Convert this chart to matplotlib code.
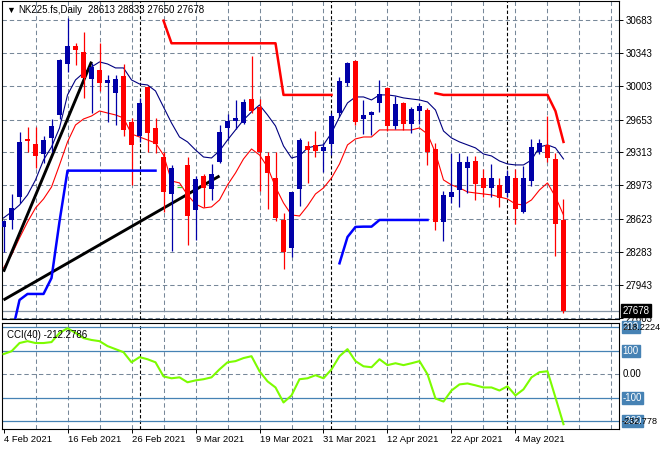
import numpy as np
import matplotlib.pyplot as plt

plt.rcParams['font.family'] = ['Liberation Sans', 'DejaVu Sans']

### NK225.fs daily bars, 4 Feb 2021 .. 12 May 2021 (71 bars)
opens = [28546, 28615, 28856, 29456, 29401, 29300, 29466, 29704, 30225, 30417,
         30352, 30073, 30169, 30028, 29928, 30104, 29628, 29484, 29987, 29566,
         29269, 28881, 28953, 29184, 28718, 29070, 28936, 29218, 29569, 29642,
         29618, 29866, 29780, 29280, 29049, 28615, 28322, 28936, 29383, 29387,
         29328, 29401, 29718, 30035, 30262, 29662, 29698, 29822, 29980, 29590,
         29822, 29608, 29742, 29752, 29346, 28598, 28856, 28925, 29156, 29225,
         29049, 28949, 28977, 28891, 29049, 28695, 29018, 29321, 29391, 29246,
         28613]
highs = [28615, 28881, 29528, 29580, 29580, 29487, 29662, 30283, 30700, 30442,
         30556, 30235, 30448, 30117, 30117, 30228, 29667, 29880, 30001, 29667,
         29321, 29184, 28953, 29263, 29073, 29091, 29198, 29597, 29708, 29856,
         29866, 30311, 29869, 29315, 29315, 28684, 28908, 29466, 29432, 29535,
         29408, 29718, 30090, 30250, 30269, 29856, 29740, 30063, 29990, 29897,
         29838, 29780, 29828, 29770, 29408, 28915, 29305, 29305, 29277, 29277,
         29139, 29191, 29046, 29132, 29139, 29177, 29449, 29456, 29690, 29305,
         28833]
lows = [28287, 28519, 28794, 29321, 29150, 29207, 29321, 29656, 30148, 30218,
        29873, 29718, 29952, 29631, 29600, 29484, 28977, 29420, 29321, 29311,
        28701, 28298, 28953, 28357, 28408, 28752, 28822, 29200, 29442, 29553,
        29610, 29718, 28918, 28726, 28608, 28105, 28229, 28763, 29001, 29269,
        29114, 29287, 29677, 29999, 29597, 29504, 29494, 29735, 29538, 29553,
        29546, 29511, 29608, 29184, 28512, 28401, 28788, 28752, 28891, 28822,
        28856, 28850, 28752, 28856, 28574, 28690, 28967, 29297, 29218, 28243,
        27650]
closes = [28608, 28736, 29418, 29435, 29280, 29439, 29587, 30269, 30414, 30373,
          30080, 30200, 30032, 30063, 30076, 29549, 29391, 29822, 29511, 29401,
          28908, 29150, 28953, 28656, 29039, 28949, 29094, 29525, 29639, 29670,
          29835, 29742, 29321, 29104, 28632, 28287, 28901, 29442, 29339, 29332,
          29373, 29690, 30052, 30242, 29631, 29701, 29732, 29915, 29590, 29811,
          29604, 29763, 29794, 29321, 28598, 28874, 28905, 29215, 29215, 28990,
          28949, 29046, 28839, 29070, 28726, 29049, 29370, 29408, 29259, 28571,
          27678]

# upper (navy) and lower (red) moving-average lines
upper_ma = [28636, 28698, 28770, 28874, 29029, 29235, 29370, 29566, 29908, 30063,
            30135, 30197, 30249, 30228, 30187, 30187, 30063, 30021, 30011, 29949,
            29783, 29618, 29473, 29422, 29339, 29266, 29256, 29329, 29442, 29546,
            29649, 29732, 29804, 29701, 29587, 29380, 29256, 29277, 29360, 29380,
            29391, 29515, 29680, 29825, 29887, 29887, 29856, 29908, 29908, 29897,
            29877, 29866, 29856, 29835, 29752, 29535, 29463, 29422, 29391, 29360,
            29297, 29277, 29225, 29194, 29184, 29184, 29235, 29370, 29391, 29360,
            29246]
lower_ma = [28119, 28253, 28429, 28594, 28739, 28832, 28956, 29184, 29422, 29597,
            29659, 29690, 29742, 29721, 29701, 29670, 29504, 29473, 29442, 29411,
            29287, 29018, 28998, 28874, 28780, 28739, 28750, 28822, 28977, 29101,
            29246, 29349, 29287, 29163, 28956, 28791, 28667, 28656, 28760, 28884,
            28946, 29049, 29194, 29391, 29453, 29473, 29473, 29546, 29546, 29546,
            29546, 29546, 29566, 29504, 29308, 29029, 28977, 28946, 28905, 28894,
            28884, 28874, 28853, 28832, 28780, 28770, 28822, 28925, 28998, 28853,
            28667]

nan = np.nan
# trailing stops (thick step lines)
red_stop = ([nan] * 20 + [30676] + [30442] * 14 + [29908] * 7 + [nan] * 12
            + [29925] + [29908] * 14 + [29740, 29422])
blue_stop = ([nan, 27426, 27788, 27850, 27850, 27850, 28015, 28600] + [29125] * 12
             + [nan] * 22 + [28167, 28439, 28543, 28546, 28546] + [28615] * 7
             + [nan] * 17)

# CCI(40)
cci = [86, 98, 133, 141, 133, 133, 137, 176, 196, 176,
       154, 146, 141, 120, 107, 94, 51, 73, 64, 51,
       -9, -17, -13, -34, -26, -21, -13, 21, 51, 56,
       69, 77, 13, -30, -56, -120, -90, -21, -17, -4,
       -17, 21, 77, 107, 56, 34, 30, 64, 39, 47,
       39, 47, 56, 0, -103, -116, -69, -43, -39, -47,
       -56, -56, -69, -51, -90, -64, -13, 9, 13, -99,
       -212.2786]

# trend lines drawn on the chart: (bar, price) end points
trend1 = [(0, 28080), (11, 30252)]
trend2 = [(0, 27788), (27, 29070)]

price_ticks = [30683, 30343, 30003, 29653, 29313, 28973, 28623, 28283, 27943, 27603]
date_pos = [0, 8, 16, 24, 32, 40, 48, 56, 64]
date_labels = ['4 Feb 2021', '16 Feb 2021', '26 Feb 2021', '9 Mar 2021', '19 Mar 2021',
               '31 Mar 2021', '12 Apr 2021', '22 Apr 2021', '4 May 2021']
month_starts = [17, 41, 63]
cci_levels = [200, 100, -100, -200]
cci_min, cci_max = -232.778, 218.2224

W, H = 660, 450
fs = 7.0
fig = plt.figure(figsize=(6.6, 4.5), dpi=100)
fig.patch.set_facecolor('white')
ax = fig.add_axes([2 / W, 1 - 319 / H, 617 / W, 318 / H])
ax2 = fig.add_axes([2 / W, 1 - 429 / H, 617 / W, 106 / H])

x = np.arange(len(closes))
xlim = (-0.19, 76.94)
grid_kw = dict(color='#778899', lw=0.75, ls=(0, (4.2, 2.8)))

### main price panel
for xv in range(4, 77, 4):
    ax.axvline(xv, zorder=0, **grid_kw)
for p in price_ticks:
    ax.axhline(p, zorder=0, **grid_kw)
for m in month_starts:
    ax.axvline(m, color='black', lw=0.8, ls=(0, (3, 2)), zorder=1)

ax.axhline(closes[-1], color='#8796a6', lw=0.9, zorder=1)

ax.plot(x, upper_ma, color='#000080', lw=0.8, zorder=2)
ax.plot(x, lower_ma, color='#ff0000', lw=0.8, zorder=2)

for t in (trend1, trend2):
    ax.plot([t[0][0], t[1][0]], [t[0][1], t[1][1]], color='black', lw=2.1,
            zorder=3, solid_capstyle='butt')

o = np.array(opens); c = np.array(closes)
up = c > o
dn = c < o
dj = c == o
bull = '#0000a8'
bear = '#ff0000'
ax.vlines(x[up], np.array(lows)[up], np.array(highs)[up], color=bull, lw=0.9, zorder=4)
ax.vlines(x[dn], np.array(lows)[dn], np.array(highs)[dn], color=bear, lw=0.9, zorder=4)
ax.bar(x[up], (c - o)[up], bottom=o[up], width=0.62, color=bull, zorder=5)
ax.bar(x[dn], (o - c)[dn], bottom=c[dn], width=0.62, color=bear, zorder=5)
ax.hlines(o[dj], x[dj] - 0.31, x[dj] + 0.31, color='#32cd32', lw=0.9, zorder=5)

ax.plot(x, red_stop, color='#ff0000', lw=1.8, zorder=6)
ax.plot(x, blue_stop, color='#0000ff', lw=1.8, zorder=6)

ax.set_xlim(*xlim)
ax.set_ylim(27591, 30879)
ax.set_xticks([])
ax.yaxis.tick_right()
ax.set_yticks(price_ticks)
ax.set_yticklabels([str(p) for p in price_ticks])
ax.tick_params(axis='y', length=3, width=0.7, pad=2, labelsize=fs, colors='black')
for s in ax.spines.values():
    s.set_linewidth(0.8)

ax.text(0.006, 0.985, '\u25bc', transform=ax.transAxes, fontsize=6.5, va='top', ha='left')
ax.text(0.027, 0.987, 'NK225.fs,Daily', transform=ax.transAxes, fontsize=fs,
        va='top', ha='left')
ax.text(0.139, 0.987, '%d %d %d %d' % (opens[-1], highs[-1], lows[-1], closes[-1]),
        transform=ax.transAxes, fontsize=fs, va='top', ha='left')
ax.text(1.006, closes[-1], str(closes[-1]), transform=ax.get_yaxis_transform(),
        fontsize=fs, color='white', va='center', ha='left', zorder=10,
        bbox=dict(boxstyle='square,pad=0.15', fc='black', ec='black'))

### CCI panel
for xv in range(4, 77, 4):
    ax2.axvline(xv, zorder=0, **grid_kw)
ax2.axhline(0, zorder=0, **grid_kw)
for m in month_starts:
    ax2.axvline(m, color='black', lw=0.8, ls=(0, (3, 2)), zorder=1)
for lv in cci_levels:
    ax2.axhline(lv, color='#4682b4', lw=0.9, zorder=1)
ax2.plot(x, cci, color='#7cfc00', lw=1.5, zorder=3)

ax2.set_xlim(*xlim)
ax2.set_ylim(cci_min, cci_max)
ax2.set_yticks([])
ax2.set_xticks(date_pos)
ax2.set_xticklabels(date_labels, ha='left')
ax2.tick_params(axis='x', length=3, width=0.7, pad=1.5, labelsize=6.8)
for s in ax2.spines.values():
    s.set_linewidth(0.8)

tr = ax2.get_yaxis_transform()
box = dict(boxstyle='square,pad=0.12', fc='#4682b4', ec='#4682b4')
for lv in [200, 100, -100, -200]:
    ax2.text(1.006, lv, str(lv), transform=tr, fontsize=fs, color='white',
             va='center', ha='left', bbox=box)
ax2.text(1.006, 0, '0.00', transform=tr, fontsize=fs, va='center', ha='left')
ax2.text(1.005, 200, '%.4f' % cci_max, transform=tr, fontsize=6.6, va='center', ha='left')
ax2.text(1.005, -200, '%.3f' % cci_min, transform=tr, fontsize=6.6, va='center', ha='left')
ax2.text(0.008, 0.93, 'CCI(40) %.4f' % cci[-1], transform=ax2.transAxes, fontsize=fs,
         va='top', ha='left')

plt.savefig('out.png', dpi=100)
